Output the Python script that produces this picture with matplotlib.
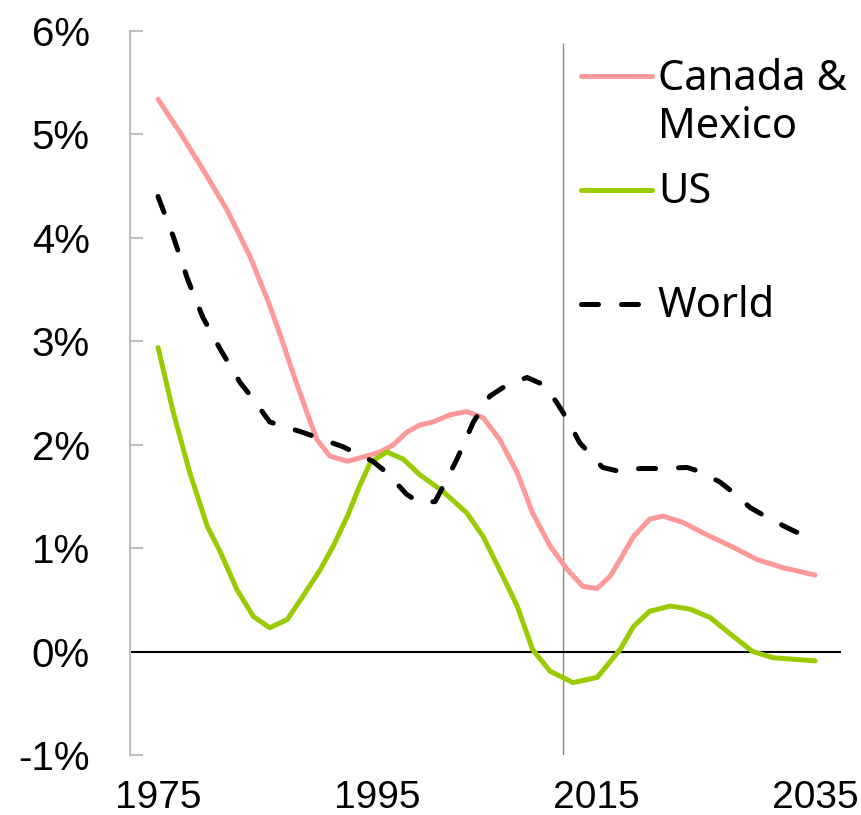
import matplotlib
matplotlib.use("Agg")
import matplotlib.pyplot as plt

# leitura aproximada do grafico (ano, % ao ano)
anos_cm = [1975.0, 1977.0, 1979.1, 1981.3, 1983.4, 1985.0, 1986.1, 1987.3, 1988.6, 1989.5, 1990.7,
           1992.3, 1993.7, 1995.3, 1996.5, 1997.7, 1998.9, 2000.1, 2001.7, 2003.2, 2004.7, 2006.2,
           2007.8, 2009.2, 2010.8, 2012.4, 2013.8, 2015.1, 2016.3, 2017.2, 2018.4, 2019.9, 2021.1,
           2022.9, 2025.1, 2027.5, 2029.7, 2032.1, 2035.0]
canada_mexico = [5.34, 5.02, 4.66, 4.27, 3.82, 3.40, 3.08, 2.70, 2.31, 2.05, 1.89,
                 1.84, 1.88, 1.93, 2.00, 2.12, 2.19, 2.22, 2.29, 2.32, 2.26, 2.05,
                 1.73, 1.34, 1.02, 0.79, 0.63, 0.61, 0.73, 0.89, 1.11, 1.28, 1.31,
                 1.25, 1.13, 1.01, 0.89, 0.81, 0.74]

anos_us = [1975.0, 1976.4, 1977.9, 1979.5, 1980.7, 1982.2, 1983.7, 1985.2, 1986.8, 1988.2, 1989.8,
           1991.0, 1992.3, 1993.4, 1994.4, 1995.9, 1997.4, 1998.9, 2001.0, 2003.2, 2004.7, 2006.2,
           2007.8, 2009.2, 2010.8, 2012.9, 2015.1, 2017.2, 2018.4, 2019.9, 2021.8, 2023.6, 2025.4,
           2027.5, 2029.3, 2031.2, 2035.0]
us = [2.94, 2.31, 1.73, 1.21, 0.96, 0.60, 0.34, 0.23, 0.31, 0.53, 0.79,
      1.02, 1.31, 1.60, 1.83, 1.93, 1.86, 1.71, 1.55, 1.34, 1.11, 0.79,
      0.44, 0.02, -0.19, -0.30, -0.25, 0.02, 0.24, 0.39, 0.44, 0.41, 0.33,
      0.15, 0.00, -0.06, -0.09]

anos_w = [1975.0, 1976.4, 1977.7, 1979.1, 1980.7, 1982.5, 1983.7, 1985.2, 1988.2, 1991.9, 1994.6,
          1995.9, 1997.7, 1998.9, 2000.3, 2001.0, 2002.3, 2003.8, 2005.3, 2006.9, 2008.7, 2010.2,
          2011.4, 2012.4, 2013.5, 2015.6, 2017.2, 2019.0, 2020.8, 2023.3, 2024.5, 2026.3, 2027.5,
          2029.1, 2030.6, 2032.4, 2033.8, 2034.8]
world = [4.40, 4.01, 3.60, 3.23, 2.92, 2.60, 2.44, 2.22, 2.12, 1.98, 1.84,
         1.73, 1.52, 1.44, 1.45, 1.59, 1.86, 2.22, 2.47, 2.58, 2.65, 2.58,
         2.41, 2.24, 2.02, 1.78, 1.74, 1.77, 1.77, 1.78, 1.74, 1.64, 1.54,
         1.39, 1.30, 1.20, 1.13, 1.10]

ano_proj = 2012
ticks_x = [1975, 1995, 2015, 2035]
ticks_y = [-1, 0, 1, 2, 3, 4, 5, 6]
rotulos_y = [f"{v}%" for v in ticks_y]

cor_cm = "#FF9999"
cor_us = "#99CC00"

fig = plt.figure(figsize=(8.62, 8.15), dpi=100)
ax = fig.add_axes([130/862, 60/815, 711/862, 724/815])

estilo = dict(lw=3.6, solid_capstyle="round", solid_joinstyle="round", zorder=3)
ax.plot(anos_cm, canada_mexico, color=cor_cm, **estilo)
ax.plot(anos_us, us, color=cor_us, **estilo)
ax.plot(anos_w, world, color="black", lw=3.6, dashes=(3.4, 4.6), dash_capstyle="round",
        dash_joinstyle="round", zorder=4)

ax.axhline(0, color="black", lw=1.5, zorder=2)
ax.vlines(ano_proj, -1, 5.88, color="#888888", lw=1, zorder=1)

ax.set_xlim(1972.44, 2037.37)
ax.set_ylim(-1, 6)
ax.set_xticks(ticks_x)
ax.set_yticks(ticks_y)
ax.set_yticklabels(rotulos_y)

for lado in ["top", "right", "bottom"]:
    ax.spines[lado].set_visible(False)
ax.spines["left"].set_color("#BFBFBF")
ax.spines["left"].set_linewidth(1.5)

ax.tick_params(axis="y", direction="in", length=9.5, width=1.5, color="#BFBFBF",
               pad=29, labelsize=29)
ax.tick_params(axis="x", length=0, pad=18, labelsize=28)
for lbl in ax.get_xticklabels() + ax.get_yticklabels():
    lbl.set_fontfamily("Liberation Sans")

# legenda feita a mao
fonte_leg = dict(fontsize=30, family="Noto Sans", va="center", transform=ax.transAxes)
ax.plot([0.6343, 0.7342], [0.9378, 0.9378], color=cor_cm, lw=3.6, solid_capstyle="round",
        transform=ax.transAxes, clip_on=False)
ax.plot([0.6343, 0.7342], [0.7804, 0.7804], color=cor_us, lw=3.6, solid_capstyle="round",
        transform=ax.transAxes, clip_on=False)
ax.plot([0.6343, 0.7342], [0.6229, 0.6229], color="black", lw=3.6, dashes=(3.4, 4.6),
        dash_capstyle="round", transform=ax.transAxes, clip_on=False)
ax.text(0.7426, 0.9335, "Canada &", **fonte_leg)
ax.text(0.7426, 0.8672, "Mexico", **fonte_leg)
ax.text(0.7426, 0.7774, "US", **fonte_leg)
ax.text(0.7426, 0.6200, "World", **fonte_leg)

plt.savefig("out.png", dpi=100)
